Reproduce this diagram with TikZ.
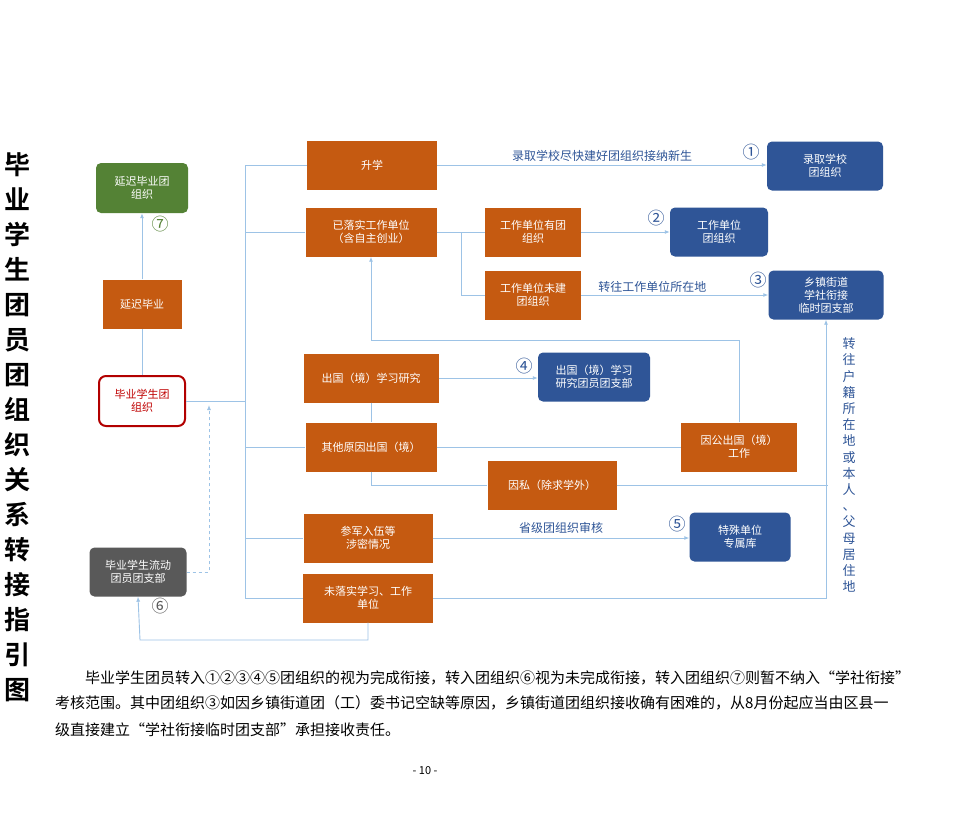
\documentclass[tikz,border=0pt]{standalone}
\usepackage{fontspec}
\setmainfont{Noto Sans CJK SC}
\newfontfamily\titlefont{Noto Sans CJK SC Bold}
\usetikzlibrary{arrows.meta}
\definecolor{boxorange}{HTML}{C55A11}
\definecolor{boxblue}{HTML}{2F5597}
\definecolor{boxgreen}{HTML}{548235}
\definecolor{boxgray}{HTML}{595959}
\definecolor{linkblue}{HTML}{9DC3E6}
\definecolor{numblue}{HTML}{2F5597}
\tikzset{
  base/.style={text=white, align=center, font=\fontsize{11}{13}\selectfont, inner sep=0pt},
  orangebox/.style={base, fill=boxorange, minimum width=#1, minimum height=49pt},
  bluebox/.style={base, fill=boxblue, rounded corners=5pt, minimum width=#1, minimum height=49pt},
  link/.style={draw=linkblue, line width=0.9pt},
  arr/.style={link, -{Latex[length=5pt,width=4pt]}},
  num/.style={font=\fontsize{17}{17}\selectfont, text=numblue, inner sep=0pt},
  lbl/.style={font=\fontsize{12}{14}\selectfont, text=numblue, inner sep=1pt},
  para/.style={font=\fontsize{15}{16}\selectfont, anchor=west, inner sep=0pt}
}
\begin{document}
\begin{tikzpicture}[x=1pt,y=-1pt]
  \useasboundingbox[fill=white] (0,0) rectangle (967,815);

  % left column
  \node[base, fill=boxgreen, rounded corners=5pt, minimum width=92pt, minimum height=50pt] (delayorg) at (142,188) {延迟毕业团\\组织};
  \node[orangebox=79pt] (delay) at (142,304) {延迟毕业};
  \node[base, draw=red!70!black, line width=2pt, rounded corners=7pt, fill=white, text=red!75!black, minimum width=86pt, minimum height=50pt] (grad) at (142,401) {毕业学生团\\组织};
  \node[base, fill=boxgray, rounded corners=5pt, minimum width=97pt, minimum height=49pt] (mobile) at (138,572) {毕业学生流动\\团员团支部};
  \node[num, text=boxgreen] (n7) at (160,224) {⑦};
  \node[num, text=boxgray] (n6) at (160,606) {⑥};

  % middle column
  \node[orangebox=130pt] (study) at (372,165) {升学};
  \node[orangebox=131pt] (job) at (371,232) {已落实工作单位\\（含自主创业）};
  \node[orangebox=96pt] (jobyes) at (533,232) {工作单位有团\\组织};
  \node[orangebox=96pt] (jobno) at (533,295) {工作单位未建\\团组织};
  \node[orangebox=135pt] (abroad) at (371,378) {出国（境）学习研究};
  \node[orangebox=131pt] (other) at (371,447) {其他原因出国（境）};
  \node[orangebox=129pt] (private) at (552,485) {因私（除求学外）};
  \node[orangebox=116pt] (public) at (739,447) {因公出国（境）\\工作};
  \node[orangebox=129pt] (army) at (368,538) {参军入伍等\\涉密情况};
  \node[orangebox=130pt] (none) at (368,598) {未落实学习、工作\\单位};

  % right column
  \node[bluebox=116pt] (school) at (825,166) {录取学校\\团组织};
  \node[bluebox=98pt] (unit) at (719,232) {工作单位\\团组织};
  \node[bluebox=115pt] (town) at (826,295) {乡镇街道\\学社衔接\\临时团支部};
  \node[bluebox=112pt] (abroadorg) at (594,377) {出国（境）学习\\研究团员团支部};
  \node[bluebox=101pt] (special) at (740,537) {特殊单位\\专属库};
  \node[num] (n1) at (751,152) {①};
  \node[num] (n2) at (656,218) {②};
  \node[num] (n3) at (758,280) {③};
  \node[num] (n4) at (524,366) {④};
  \node[num] (n5) at (677,524) {⑤};

  % trunk
  \coordinate (trunk) at (245,401);
  \draw[link] (grad.east) -- (trunk);
  \draw[link] (245,165) -- (245,598);
  \draw[link] (245,165) -- (study.west);
  \draw[link] (245,232) -- (job.west);
  \draw[link] (245,447) -- (other.west);
  \draw[link] (245,538) -- (army.west);
  \draw[link] (245,598) -- (none.west);

  % delay
  \draw[link] (grad.north) -- (delay.south);
  \draw[arr] (delay.north) -- (delayorg.south);

  % upper branches
  \draw[arr] (study.east) -- node[lbl, above=2pt] {录取学校尽快建好团组织接纳新生} (study.east -| school.west);
  \draw[link] (job.east) -- (jobyes.west);
  \draw[link] (461,232) |- (jobno.west);
  \draw[arr] (jobyes.east) -- (unit.west);
  \draw[arr] (jobno.east) -- node[lbl, above=1pt, pos=0.38] {转往工作单位所在地} (town.west);

  % abroad
  \draw[arr] (abroad.east) -- (abroad.east -| abroadorg.west);
  \draw[link] (abroad.south) -- (other.north);
  \draw[link] (other.east) -- (public.west);
  \draw[link] (other.south) |- (private.west);
  \draw[arr] (public.north) |- (371,340) -- (job.south);
  \draw[link] (private.east) -- (828,485);

  % lower branches
  \draw[arr] (army.east) -- node[lbl, above=3pt] {省级团组织审核} (army.east -| special.west);
  \draw[arr] (none.east) -| (town.south);
  \node[lbl, align=center, font=\fontsize{13}{16.2}\selectfont] (home) at (849,465) {转\\往\\户\\籍\\所\\在\\地\\或\\本\\人\\、\\父\\母\\居\\住\\地};
  \draw[arr] (none.south) |- (140,640) -- (mobile.south);
  \draw[arr, dashed] (mobile.east) -| (209,405);

  % title
  \node[font=\titlefont\fontsize{26}{35}\selectfont, align=center, inner sep=0pt] (title) at (18,427) {毕\\业\\学\\生\\团\\员\\团\\组\\织\\关\\系\\转\\接\\指\\引\\图};

  % notes
  \node[para] (line1) at (85,678) {毕业学生团员转入①②③④⑤团组织的视为完成衔接，转入团组织⑥视为未完成衔接，转入团组织⑦则暂不纳入“学社衔接”};
  \node[para] (line2) at (55,703) {考核范围。其中团组织③如因乡镇街道团（工）委书记空缺等原因，乡镇街道团组织接收确有困难的，从8月份起应当由区县一};
  \node[para] (line3) at (55,730) {级直接建立“学社衔接临时团支部”承担接收责任。};
  \node[font=\fontsize{11}{12}\selectfont] (page) at (425,771) {- 10 -};
\end{tikzpicture}
\end{document}
